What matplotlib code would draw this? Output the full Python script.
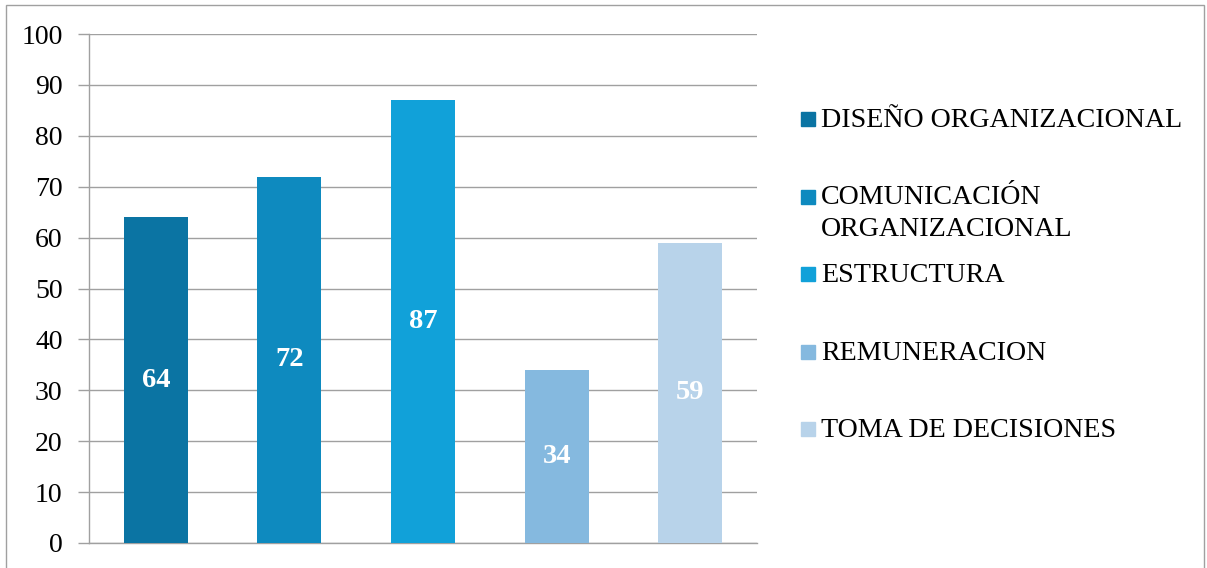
import matplotlib.pyplot as plt
from matplotlib.patches import Rectangle

# Data
categories = ["DISEÑO ORGANIZACIONAL", "COMUNICACIÓN\nORGANIZACIONAL",
              "ESTRUCTURA", "REMUNERACION", "TOMA DE DECISIONES"]
values = [64, 72, 87, 34, 59]
colors = ["#0b74a3", "#0e8abf", "#11a1d9", "#85b9df", "#b8d3ea"]
y_ticks = list(range(0, 101, 10))

plt.rcParams["font.family"] = ["Liberation Serif", "DejaVu Serif"]

W, H = 1207, 568
fig = plt.figure(figsize=(W / 100, H / 100), dpi=100)
ax = fig.add_axes([89 / W, 1 - 543 / H, (757 - 89) / W, (543 - 34) / H])

# Bars with centred value labels
x = list(range(len(values)))
bars = ax.bar(x, values, width=0.48, color=colors, zorder=3)
for bar, v in zip(bars, values):
    ax.text(bar.get_x() + bar.get_width() / 2, v / 2, str(v),
            ha="center", va="center", color="white",
            fontsize=20.5, fontweight="bold", zorder=4)

ax.set_xlim(-0.5, len(values) - 0.5)
ax.set_ylim(0, 100)
ax.set_yticks(y_ticks)
ax.set_xticks([])
ax.tick_params(axis="y", length=8, width=1, color="#a0a0a0",
               labelsize=20, pad=11)
ax.yaxis.grid(True, color="#a0a0a0", linewidth=1, zorder=0)
for side in ["top", "right"]:
    ax.spines[side].set_visible(False)
for side in ["left", "bottom"]:
    ax.spines[side].set_color("#a0a0a0")
    ax.spines[side].set_linewidth(1)

# Manual legend on the right (first-line baselines evenly spaced)
for i, (label, c) in enumerate(zip(categories, colors)):
    base = 127 + 77.5 * i
    fig.patches.append(Rectangle((801 / W, 1 - (base - 1) / H), 14 / W, 14 / H,
                                 transform=fig.transFigure, color=c))
    for j, line in enumerate(label.split("\n")):
        fig.text(821 / W, 1 - (base + 32 * j) / H, line, fontsize=20.2,
                 va="baseline", ha="left")

# Outer chart border
fig.patches.append(Rectangle((6 / W, -0.05), (1204 - 6) / W, 1.05 - 5 / H,
                             transform=fig.transFigure, fill=False,
                             edgecolor="#a0a0a0", linewidth=1))

fig.savefig("out.png", dpi=100)
